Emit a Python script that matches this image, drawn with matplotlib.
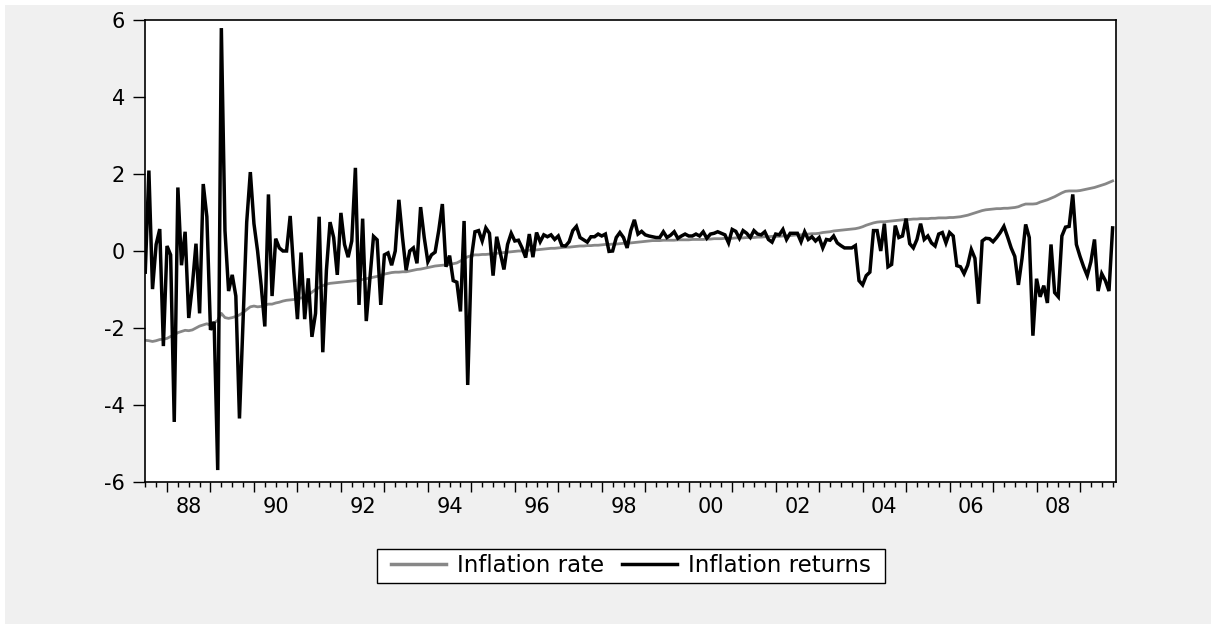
import numpy as np
import pandas as pd
import matplotlib
matplotlib.use('Agg')
import matplotlib.pyplot as plt
from matplotlib.patches import Rectangle
from matplotlib.ticker import MultipleLocator, NullFormatter

plt.rcParams['font.family'] = 'DejaVu Sans'
plt.rcParams['axes.unicode_minus'] = False

# monthly series, 1987M07 .. 2009M10
start_month = '1987-07'

inflation_returns = [
    -0.55, 2.09, -0.99, 0.17, 0.57, -2.47, 0.13, -0.10, -4.44, 1.65, -0.37, 0.50,
    -1.74, -0.90, 0.19, -1.62, 1.74, 0.89, -2.05, -1.84, -5.69, 5.79, 0.53, -1.04,
    -0.62, -1.17, -4.35, -1.80, 0.75, 2.05, 0.71, 0.00, -0.90, -1.96, 1.47, -1.17,
    0.32, 0.08, 0.00, 0.00, 0.91, -0.55, -1.77, -0.04, -1.77, -0.71, -2.23, -1.62,
    0.89, -2.63, -0.50, 0.75, 0.35, -0.62, 0.99, 0.17, -0.16, 0.26, 2.16, -1.40,
    0.84, -1.82, -0.72, 0.38, 0.29, -1.40, -0.10, -0.05, -0.37, 0.00, 1.33, 0.35,
    -0.50, 0.00, 0.08, -0.32, 1.14, 0.35, -0.28, -0.10, -0.03, 0.53, 1.22, -0.41,
    -0.12, -0.77, -0.81, -1.57, 0.78, -3.48, -0.19, 0.50, 0.53, 0.26, 0.60, 0.46,
    -0.64, 0.37, -0.05, -0.48, 0.17, 0.46, 0.26, 0.28, 0.08, -0.17, 0.44, -0.16,
    0.48, 0.24, 0.42, 0.37, 0.42, 0.30, 0.39, 0.14, 0.13, 0.24, 0.53, 0.64,
    0.35, 0.29, 0.23, 0.37, 0.37, 0.44, 0.39, 0.44, -0.01, 0.00, 0.35, 0.48,
    0.35, 0.08, 0.53, 0.81, 0.44, 0.51, 0.42, 0.39, 0.37, 0.35, 0.35, 0.50,
    0.35, 0.41, 0.50, 0.33, 0.39, 0.44, 0.39, 0.39, 0.44, 0.39, 0.50, 0.33,
    0.44, 0.46, 0.50, 0.46, 0.42, 0.21, 0.56, 0.51, 0.33, 0.53, 0.46, 0.35,
    0.53, 0.44, 0.42, 0.50, 0.30, 0.23, 0.44, 0.42, 0.56, 0.30, 0.46, 0.46,
    0.46, 0.24, 0.50, 0.30, 0.37, 0.26, 0.35, 0.08, 0.30, 0.28, 0.39, 0.21,
    0.14, 0.08, 0.08, 0.08, 0.14, -0.77, -0.88, -0.64, -0.55, 0.53, 0.53, 0.00,
    0.71, -0.41, -0.35, 0.66, 0.35, 0.39, 0.84, 0.19, 0.08, 0.30, 0.71, 0.30,
    0.39, 0.21, 0.13, 0.44, 0.48, 0.21, 0.48, 0.39, -0.38, -0.41, -0.59, -0.37,
    0.04, -0.19, -1.37, 0.26, 0.33, 0.32, 0.24, 0.35, 0.48, 0.64, 0.37, 0.08,
    -0.14, -0.88, -0.19, 0.69, 0.35, -2.20, -0.72, -1.19, -0.90, -1.35, 0.17, -1.08,
    -1.19, 0.39, 0.62, 0.64, 1.47, 0.17, -0.14, -0.41, -0.64, -0.28, 0.30, -1.04,
    -0.59, -0.77, -1.04, 0.60,
]

inflation_rate = [
    -2.32, -2.33, -2.35, -2.33, -2.30, -2.29, -2.27, -2.22, -2.18, -2.12, -2.09, -2.06,
    -2.07, -2.05, -2.00, -1.95, -1.92, -1.89, -1.93, -1.87, -1.80, -1.62, -1.73, -1.75,
    -1.73, -1.70, -1.66, -1.60, -1.52, -1.45, -1.43, -1.45, -1.44, -1.40, -1.38, -1.38,
    -1.35, -1.33, -1.30, -1.28, -1.27, -1.26, -1.24, -1.22, -1.20, -1.15, -1.07, -1.00,
    -0.95, -0.90, -0.86, -0.84, -0.83, -0.82, -0.81, -0.80, -0.79, -0.78, -0.77, -0.76,
    -0.74, -0.72, -0.70, -0.68, -0.66, -0.63, -0.60, -0.58, -0.56, -0.55, -0.55, -0.54,
    -0.54, -0.52, -0.50, -0.48, -0.47, -0.45, -0.43, -0.41, -0.39, -0.38, -0.37, -0.36,
    -0.35, -0.33, -0.31, -0.26, -0.20, -0.15, -0.12, -0.10, -0.10, -0.09, -0.09, -0.08,
    -0.07, -0.06, -0.05, -0.04, -0.03, -0.02, -0.01, 0.00, 0.00, 0.01, 0.02, 0.03,
    0.03, 0.04, 0.05, 0.06, 0.07, 0.07, 0.08, 0.09, 0.10, 0.10, 0.11, 0.12,
    0.13, 0.13, 0.14, 0.14, 0.15, 0.15, 0.16, 0.17, 0.17, 0.18, 0.18, 0.19,
    0.20, 0.20, 0.21, 0.22, 0.23, 0.24, 0.25, 0.26, 0.27, 0.27, 0.27, 0.28,
    0.28, 0.28, 0.28, 0.29, 0.29, 0.29, 0.29, 0.30, 0.30, 0.30, 0.30, 0.31,
    0.31, 0.32, 0.32, 0.32, 0.33, 0.33, 0.33, 0.34, 0.34, 0.34, 0.35, 0.35,
    0.35, 0.36, 0.36, 0.37, 0.37, 0.38, 0.38, 0.38, 0.39, 0.39, 0.40, 0.41,
    0.42, 0.42, 0.43, 0.44, 0.45, 0.45, 0.46, 0.48, 0.49, 0.50, 0.52, 0.53,
    0.54, 0.55, 0.56, 0.57, 0.58, 0.60, 0.63, 0.67, 0.70, 0.73, 0.75, 0.76,
    0.76, 0.77, 0.78, 0.79, 0.80, 0.81, 0.82, 0.82, 0.83, 0.83, 0.84, 0.84,
    0.84, 0.85, 0.85, 0.86, 0.86, 0.86, 0.87, 0.87, 0.88, 0.89, 0.91, 0.93,
    0.96, 0.99, 1.02, 1.05, 1.07, 1.08, 1.09, 1.10, 1.10, 1.11, 1.11, 1.12,
    1.13, 1.15, 1.19, 1.22, 1.22, 1.22, 1.23, 1.27, 1.30, 1.33, 1.37, 1.41,
    1.46, 1.51, 1.55, 1.56, 1.56, 1.56, 1.57, 1.59, 1.61, 1.63, 1.65, 1.68,
    1.71, 1.74, 1.78, 1.82,
]

year_labels = ['88', '90', '92', '94', '96', '98', '00', '02', '04', '06', '08']
label_years = [1988, 1990, 1992, 1994, 1996, 1998, 2000, 2002, 2004, 2006, 2008]
y_ticks = [-6, -4, -2, 0, 2, 4, 6]

# decimal-year position of each month
months = pd.period_range(start_month, periods=len(inflation_returns), freq='M')
x = months.year + (months.month - 1) / 12.0

W, H = 1211, 624
fig = plt.figure(figsize=(W / 100, H / 100), dpi=100, facecolor='white')

# grey EViews-style panel behind everything
fig.patches.append(Rectangle((5 / W, 0), 1, (H - 5) / H, transform=fig.transFigure,
                             facecolor='#f0f0f0', edgecolor='none', zorder=-10))

ax = fig.add_axes([145 / W, (H - 482) / H, 971 / W, 462 / H])
ax.set_facecolor('white')

ax.plot(x, inflation_rate, color='#878787', lw=2.0, label='Inflation rate',
        solid_joinstyle='round')
ax.plot(x, inflation_returns, color='black', lw=2.5, label='Inflation returns',
        solid_joinstyle='miter')

ax.set_xlim(1987.494, 2009.828)
ax.set_ylim(-6, 6)

# y axis
ax.set_yticks(y_ticks)
ax.set_yticklabels([str(v) for v in y_ticks])
ax.tick_params(axis='y', direction='out', length=8.5, width=1, pad=6,
               labelsize=15, colors='black')

# x axis: yearly major ticks, quarterly minor ticks, labels centred in the year
ax.xaxis.set_major_locator(MultipleLocator(1))
ax.xaxis.set_minor_locator(MultipleLocator(0.25))
ax.xaxis.set_major_formatter(NullFormatter())
ax.tick_params(axis='x', which='major', direction='out', length=7.2, width=1)
ax.tick_params(axis='x', which='minor', direction='out', length=3.6, width=1)
for yr, lab in zip(label_years, year_labels):
    ax.text(yr + 0.5, -0.054, lab, transform=ax.get_xaxis_transform(),
            ha='center', va='center', fontsize=15)

for s in ax.spines.values():
    s.set_linewidth(1.2)
    s.set_color('black')

# legend box drawn by hand (wide side padding, tight top/bottom)
fig.patches.append(Rectangle((377 / W, (H - 583) / H), 508 / W, 34 / H,
                             transform=fig.transFigure, facecolor='white',
                             edgecolor='black', linewidth=1.0, zorder=1))
leg = fig.legend(loc='center', bbox_to_anchor=(631 / W, (H - 566) / H), ncol=2,
                 fontsize=16.5, frameon=False, borderpad=0.0,
                 handlelength=2.4, handletextpad=0.48, columnspacing=0.75,
                 borderaxespad=0)
leg.set_zorder(2)
for h in leg.get_lines():
    h.set_linewidth(2.5)

fig.savefig('out.png', dpi=100, facecolor=fig.get_facecolor())
